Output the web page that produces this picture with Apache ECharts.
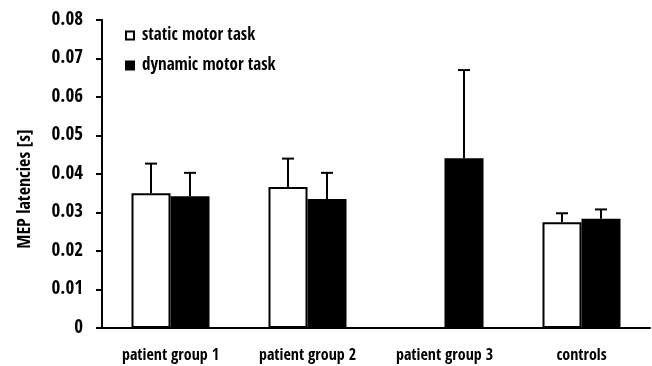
<!DOCTYPE html>
<html>
<head>
<meta charset="utf-8">
<script src="https://cdn.jsdelivr.net/npm/echarts@6/dist/echarts.min.js"></script>
<style>
  html, body { margin: 0; padding: 0; background: #fff; }
  #chart { width: 652px; height: 366px; }
</style>
</head>
<body>
<div id="chart"></div>
<script>
// MEP latencies per group, mean and upper error (mean + SD)
const categories = ['patient group 1', 'patient group 2', 'patient group 3', 'controls'];
const staticMean = [0.0350, 0.0366, null, 0.0275];
const staticUpper = [0.0427, 0.0440, null, 0.0298];
const dynamicMean = [0.0342, 0.0335, 0.0441, 0.0284];
const dynamicUpper = [0.0403, 0.0403, 0.0670, 0.0308];
const yTicks = { min: 0, max: 0.08, step: 0.01 };

const FONT = '"Open Sans Condensed", "Roboto Condensed", sans-serif';
const BAR_W = 39;

// upward-only error bar with a cap, placed over one of the two bars in a group
function errorBarSeries(name, means, uppers, side) {
  return {
    type: 'custom',
    name: name + ' error',
    z: 1,
    silent: true,
    data: categories.map((c, i) => [i, means[i], uppers[i]]),
    renderItem: function (params, api) {
      const m = api.value(1), u = api.value(2);
      if (m == null || u == null || isNaN(m) || isNaN(u)) return null;
      const base = api.coord([api.value(0), m]);
      const top = api.coord([api.value(0), u]);
      const x = base[0] + side * BAR_W / 2;
      const cap = 6;
      const style = { stroke: '#000', lineWidth: 2 };
      return {
        type: 'group',
        children: [
          { type: 'line', shape: { x1: x, y1: base[1], x2: x, y2: top[1] }, style: style },
          { type: 'line', shape: { x1: x - cap, y1: top[1], x2: x + cap, y2: top[1] }, style: style }
        ]
      };
    }
  };
}

const chart = echarts.init(document.getElementById('chart'), null, { renderer: 'canvas' });
chart.setOption({
  animation: false,
  backgroundColor: '#fff',
  textStyle: { fontFamily: FONT },
  grid: { left: 102, right: 2, top: 20, bottom: 38 },
  legend: {
    orient: 'vertical',
    left: 120,
    top: 22,
    itemGap: 13,
    itemWidth: 8,
    itemHeight: 8,
    icon: 'rect',
    textStyle: { fontFamily: FONT, fontSize: 17, fontWeight: 'bold', color: '#000', padding: [0, 0, 0, 3] },
    data: ['static motor task', 'dynamic motor task']
  },
  xAxis: {
    type: 'category',
    data: categories,
    axisLine: { lineStyle: { color: '#000', width: 2 } },
    axisTick: { show: false },
    axisLabel: { color: '#000', fontSize: 16, fontWeight: 'bold', fontFamily: FONT, margin: 20 }
  },
  yAxis: {
    type: 'value',
    min: yTicks.min,
    max: yTicks.max,
    interval: yTicks.step,
    axisLine: { show: true, lineStyle: { color: '#000', width: 2 } },
    axisTick: { show: true, length: 6, lineStyle: { color: '#000', width: 2 } },
    splitLine: { show: false },
    axisLabel: {
      color: '#000', fontSize: 19, fontWeight: 'bold', fontFamily: FONT, margin: 19,
      formatter: v => (v === 0 ? '0' : v.toFixed(2))
    }
  },
  graphic: [{
    type: 'text',
    x: 25, y: 189,
    rotation: Math.PI / 2,
    style: {
      text: 'MEP latencies [s]',
      fill: '#000',
      font: 'bold 18px ' + FONT,
      align: 'center',
      verticalAlign: 'middle'
    }
  }],
  series: [
    {
      name: 'static motor task',
      type: 'bar',
      data: staticMean,
      barWidth: BAR_W,
      barGap: '0%',
      z: 2,
      itemStyle: { color: '#fff', borderColor: '#000', borderWidth: 2 }
    },
    {
      name: 'dynamic motor task',
      type: 'bar',
      data: dynamicMean,
      barWidth: BAR_W,
      barGap: '0%',
      z: 2,
      itemStyle: { color: '#000', borderColor: '#000', borderWidth: 2 }
    },
    errorBarSeries('static motor task', staticMean, staticUpper, -1),
    errorBarSeries('dynamic motor task', dynamicMean, dynamicUpper, 1)
  ]
});
</script>
</body>
</html>
